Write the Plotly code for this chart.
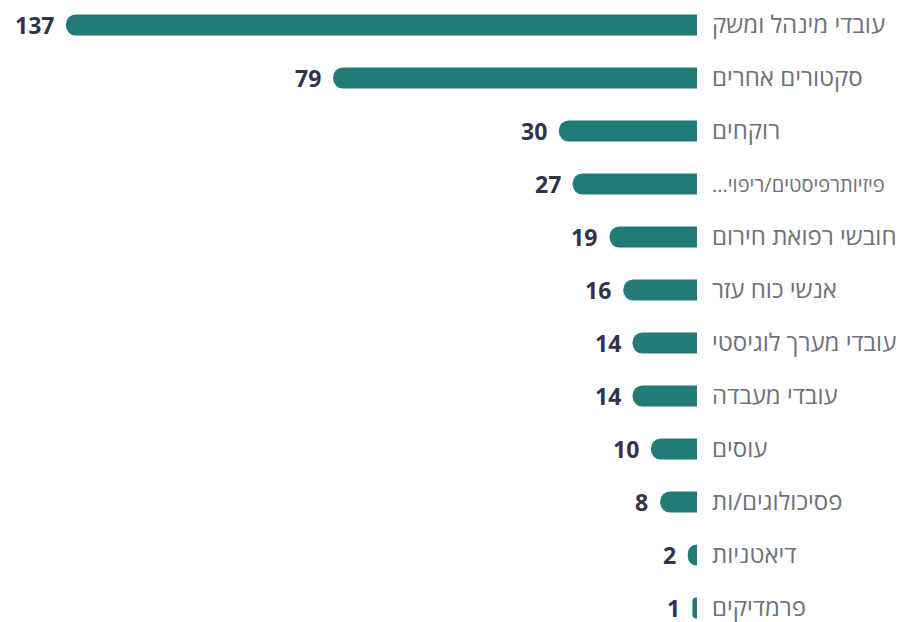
import plotly.graph_objects as go

categories = [
    "עובדי מינהל ומשק",
    "סקטורים אחרים",
    "רוקחים",
    "פיזיותרפיסטים/ריפוי...\u200f",
    "חובשי רפואת חירום",
    "אנשי כוח עזר",
    "עובדי מערך לוגיסטי",
    "עובדי מעבדה",
    "עוסים",
    "פסיכולוגים/ות",
    "דיאטניות",
    "פרמדיקים",
]
values = [137, 79, 30, 27, 19, 16, 14, 14, 10, 8, 2, 1]

BAR_COLOR = "#237b77"
LABEL_COLOR = "#30334a"
CAT_COLOR = "#707078"

fig = go.Figure(
    go.Bar(
        x=values,
        y=categories,
        orientation="h",
        marker=dict(color=BAR_COLOR, line=dict(width=0)),
        hoverinfo="skip",
    )
)

for c, v in zip(categories, values):
    fig.add_annotation(
        x=v, y=c, text=f"<b>{v}</b>", showarrow=False,
        xanchor="right", yanchor="middle", xshift=-10,
        font=dict(family="Open Sans, Noto Sans, DejaVu Sans", size=23, color=LABEL_COLOR),
    )

# the long truncated label is drawn slightly condensed so it fits like in the reference
tick_text = [
    f'<span style="font-size:20px">{c}</span>' if len(c) > 19 else c
    for c in categories
]

fig.update_layout(
    width=916, height=622,
    margin=dict(l=0, r=219, t=0, b=0, autoexpand=False),
    paper_bgcolor="white", plot_bgcolor="white",
    bargap=0.6,
    barcornerradius=10,
    showlegend=False,
    xaxis=dict(range=[151.3, 0], visible=False, fixedrange=True, automargin=False),
    yaxis=dict(
        type="category", automargin=False,
        categoryorder="array", categoryarray=categories,
        tickmode="array", tickvals=categories, ticktext=tick_text,
        range=[11.264, -0.472],
        side="right", showgrid=False, zeroline=False, showline=False,
        ticks="", ticklabelstandoff=14,
        tickfont=dict(family="Open Sans, Noto Sans, DejaVu Sans", size=24, color=CAT_COLOR),
    ),
)

fig.write_html(
    "out.html",
    config={"displayModeBar": False, "staticPlot": True},
    post_script="document.body.style.margin='0';",
)
